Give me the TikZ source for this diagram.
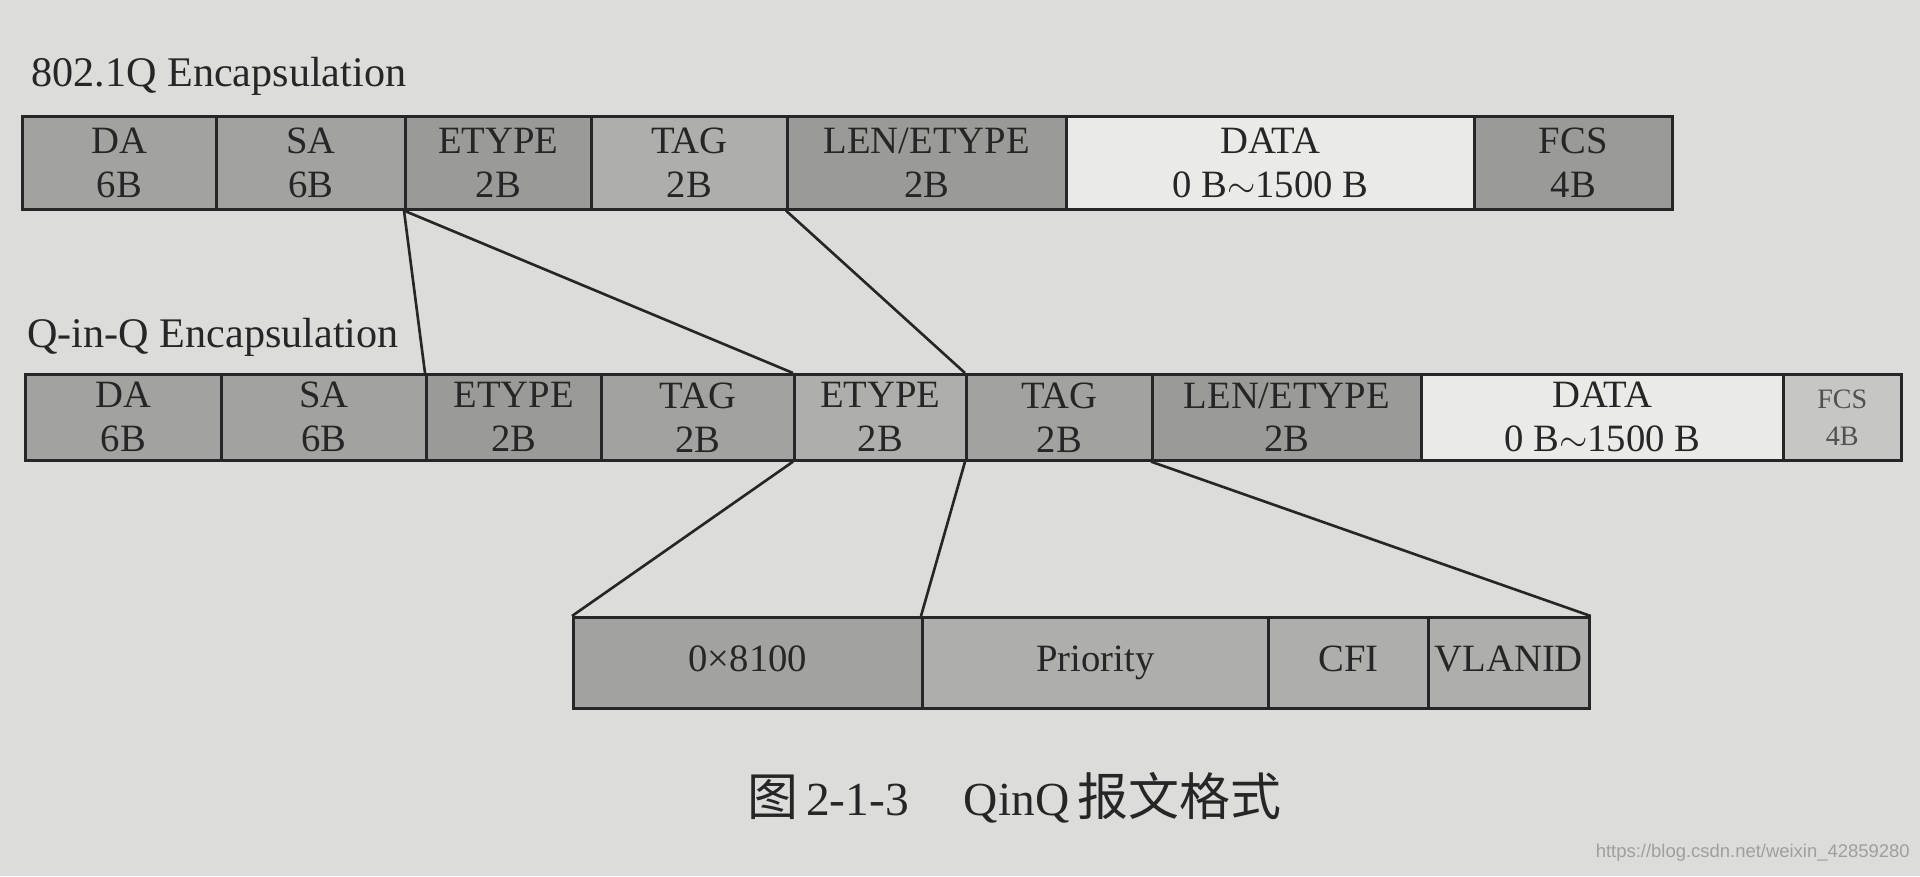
\documentclass[tikz,border=0pt]{standalone}
\usepackage{fontspec}
\setmainfont{Liberation Serif}
\newfontfamily\cjk{Noto Sans CJK SC}
\newfontfamily\wmfont{Liberation Sans}
\definecolor{paper}{HTML}{DCDCDA}
\definecolor{ink}{HTML}{262626}
\definecolor{gA}{HTML}{A2A2A0}
\definecolor{gB}{HTML}{9A9A98}
\definecolor{gC}{HTML}{AEAEAC}
\definecolor{gD}{HTML}{BABAB8}
\definecolor{gL}{HTML}{EAEAE8}
\definecolor{gF}{HTML}{C6C6C4}
\tikzset{
  fld/.style={draw=ink, line width=1.5pt, fill=gA, text=ink, align=center,
    inner sep=0pt, anchor=north west, font=\fontsize{22}{25}\selectfont},
  toprow/.style={fld, minimum height=1.86cm},
  midrow/.style={fld, minimum height=1.72cm},
  botrow/.style={fld, minimum height=1.82cm, text height=15pt, text depth=5pt},
  link/.style={draw=ink, line width=1.5pt},
  ttl/.style={anchor=base west, text=ink, inner sep=0pt, font=\fontsize{24}{26}\selectfont}
}
\begin{document}
\begin{tikzpicture}
\fill[paper] (0,0) rectangle (38.4,-17.52);
\useasboundingbox (0,0) rectangle (38.4,-17.52);

\node[ttl] (t1) at (0.62,-1.72) {802.1Q Encapsulation};
\node[ttl] (t2) at (0.54,-6.94) {Q-in-Q Encapsulation};

% top row
\node[toprow, minimum width=3.88cm] (tDA) at (0.42,-2.30) {DA\\6B};
\node[toprow, minimum width=3.78cm] (tSA) at (4.30,-2.30) {SA\\6B};
\node[toprow, minimum width=3.72cm, fill=gB] (tET) at (8.08,-2.30) {ETYPE\\2B};
\node[toprow, minimum width=3.92cm, fill=gC] (tTG) at (11.80,-2.30) {TAG\\2B};
\node[toprow, minimum width=5.58cm, fill=gB] (tLE) at (15.72,-2.30) {LEN/ETYPE\\2B};
\node[toprow, minimum width=8.16cm, fill=gL] (tDT) at (21.30,-2.30) {DATA\\0 B$\sim$1500 B};
\node[toprow, minimum width=3.96cm, fill=gB] (tFC) at (29.46,-2.30) {FCS\\4B};

% middle row
\node[midrow, minimum width=3.92cm] (mDA) at (0.48,-7.46) {DA\\6B};
\node[midrow, minimum width=4.10cm] (mSA) at (4.40,-7.46) {SA\\6B};
\node[midrow, minimum width=3.50cm, fill=gB] (mET1) at (8.50,-7.46) {ETYPE\\2B};
\node[midrow, minimum width=3.86cm] (mTG1) at (12.00,-7.46) {TAG\\2B};
\node[midrow, minimum width=3.44cm, fill=gC] (mET2) at (15.86,-7.46) {ETYPE\\2B};
\node[midrow, minimum width=3.72cm] (mTG2) at (19.30,-7.46) {TAG\\2B};
\node[midrow, minimum width=5.38cm, fill=gB] (mLE) at (23.02,-7.46) {LEN/ETYPE\\2B};
\node[midrow, minimum width=7.24cm, fill=gL] (mDT) at (28.40,-7.46) {DATA\\0 B$\sim$1500 B};
\node[midrow, minimum width=2.36cm, fill=gF, font=\fontsize{16}{21}\selectfont, text=ink!80] (mFC) at (35.64,-7.46) {FCS\\4B};

% bottom row
\node[botrow, minimum width=6.98cm] (bHX) at (11.44,-12.32) {0×8100};
\node[botrow, minimum width=6.92cm, fill=gC] (bPR) at (18.42,-12.32) {Priority};
\node[botrow, minimum width=3.20cm, fill=gC] (bCF) at (25.34,-12.32) {CFI};
\node[botrow, minimum width=3.22cm, fill=gC] (bVL) at (28.54,-12.32) {VLANID};

% connectors
\draw[link] (tET.south west) -- (mET1.north west);
\draw[link] (tET.south west) -- (mET2.north west);
\draw[link] (tLE.south west) -- (mTG2.north west);
\draw[link] (mET2.south west) -- (bHX.north west);
\draw[link] (mTG2.south west) -- (bPR.north west);
\draw[link] (mLE.south west) -- (bVL.north east);

% caption
\node[anchor=base west, text=ink, inner sep=0pt, font=\fontsize{27}{29}\selectfont] (cap) at (14.94,-16.30)
  {{\cjk\fontsize{29}{30}\selectfont 图}\,2-1-3\hspace{1.1cm}QinQ\,{\cjk\fontsize{29}{30}\selectfont 报文格式}};

% watermark
\node[anchor=east, inner sep=0pt, text=gray!75, font=\wmfont\fontsize{10.5}{12}\selectfont] (wm) at (38.2,-17.06)
  {https://blog.csdn.net/weixin\_42859280};
\end{tikzpicture}
\end{document}
